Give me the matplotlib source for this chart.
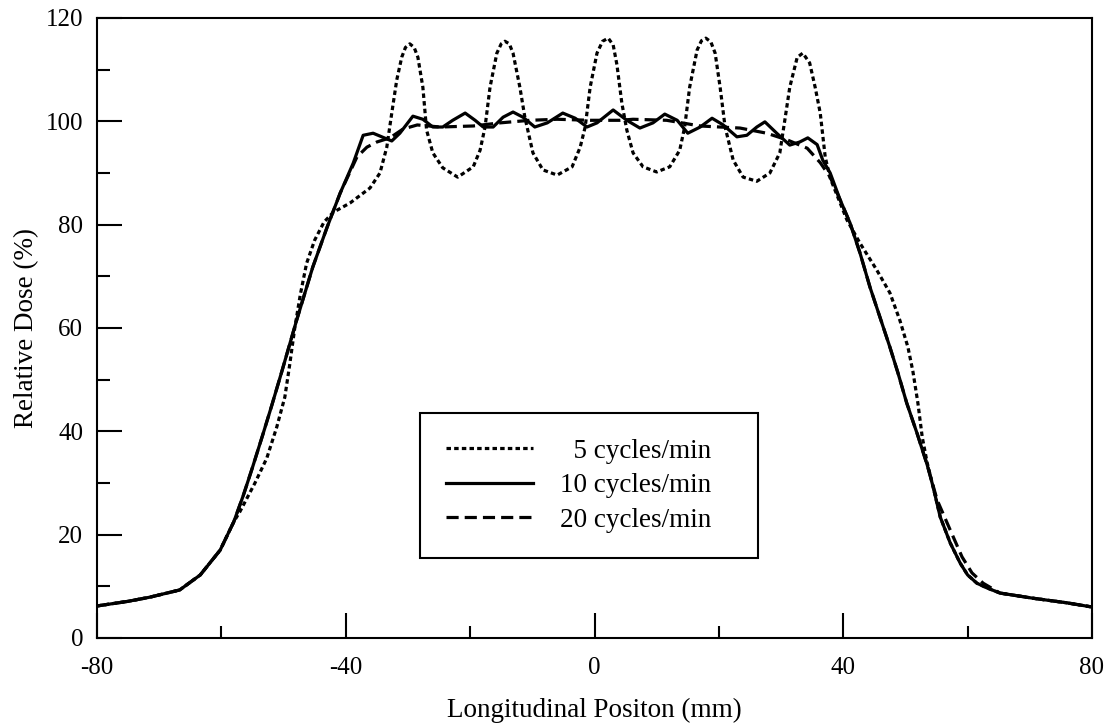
import matplotlib
matplotlib.use("Agg")
import matplotlib.pyplot as plt
from matplotlib.ticker import MultipleLocator

plt.rcParams['font.family'] = ['Liberation Serif', 'DejaVu Serif']
plt.rcParams['axes.unicode_minus'] = False

# ---- data ----
x_5 = [-80, -75, -71.5, -66.7, -63.4, -60.2, -58.0, -57.0, -54.6, -52.7, -51.1, -49.8,
       -49.0, -48.2, -47.3, -46.3, -45.0, -43.5, -42.0, -39.3, -36.1, -34.5, -33.4, -32.6,
       -31.8, -31.0, -30.4, -29.7, -29.0, -28.4, -27.6, -27.0, -26.0, -24.4, -22.0, -19.5,
       -18.4, -17.6, -16.8, -15.7, -15.0, -14.4, -13.7, -13.1, -12.0, -11.2, -9.9, -8.3,
       -6.0, -3.6, -2.3, -1.5, -0.7, 0.4, 1.3, 2.2, 3.0, 3.6, 4.4, 5.2,
       6.2, 7.8, 10.0, 12.1, 13.7, 14.5, 15.3, 16.5, 17.2, 17.9, 18.7, 19.4,
       20.2, 21.0, 22.3, 23.9, 26.1, 28.2, 29.8, 30.6, 31.4, 32.6, 33.5, 34.6,
       35.5, 36.3, 37.1, 37.9, 40.6, 42.7, 45.4, 47.5, 49.1, 50.4, 51.2, 52.0,
       52.7, 53.5, 54.4, 55.6, 57.2, 58.8, 60.0, 61.5, 63.1, 65.2, 70.5, 76.0,
       80]
y_5 = [6.2, 7.1, 7.9, 9.3, 12.2, 17.0, 22.5, 24.5, 30.0, 34.8, 40.8, 46.6,
       53.0, 60.0, 66.5, 72.5, 77.0, 80.5, 82.4, 84.2, 87.1, 90.0, 95.0, 101.6,
       108.0, 112.4, 114.3, 115.0, 114.3, 112.4, 106.6, 98.3, 93.9, 91.0, 89.2, 91.2,
       94.4, 98.9, 106.6, 113.2, 115.0, 115.5, 115.0, 113.2, 106.6, 100.8, 93.9, 90.6,
       89.6, 91.2, 95.0, 98.9, 106.6, 113.2, 115.5, 116.1, 114.8, 111.0, 103.5, 98.3,
       93.9, 91.2, 90.2, 91.2, 94.4, 98.9, 106.6, 113.8, 115.6, 116.1, 115.4, 113.2,
       106.6, 98.9, 92.5, 89.2, 88.4, 90.0, 93.9, 100.2, 106.6, 112.4, 113.2, 111.3,
       106.5, 101.6, 93.1, 89.0, 80.9, 76.4, 71.2, 66.8, 61.5, 56.3, 51.6, 45.5,
       38.9, 33.9, 29.5, 23.4, 18.4, 14.5, 12.2, 10.6, 9.7, 8.7, 7.7, 6.8,
       6.0]

x_10 = [-80, -75, -71.5, -66.7, -63.4, -60.2, -58.0, -56.5, -55.0, -53.3, -51.9, -50.3,
        -47.9, -45.3, -43.0, -40.9, -38.8, -37.2, -35.6, -34.2, -32.6, -31.3, -29.2, -27.6,
        -26.0, -24.4, -22.8, -20.8, -19.2, -17.9, -16.3, -14.7, -13.1, -11.5, -9.6, -7.6,
        -5.1, -3.1, -1.2, 0.4, 3.0, 5.2, 7.3, 9.4, 11.3, 13.3, 15.0, 17.0,
        18.9, 20.7, 22.9, 24.5, 26.1, 27.4, 29.3, 31.4, 33.0, 34.3, 35.8, 36.7,
        37.9, 39.5, 41.1, 42.7, 44.3, 45.9, 47.5, 48.8, 50.2, 51.9, 53.5, 54.4,
        55.6, 57.2, 58.8, 60.0, 61.5, 63.1, 65.2, 70.5, 76.0, 80]
y_10 = [6.2, 7.1, 7.9, 9.3, 12.2, 17.0, 22.5, 27.5, 33.0, 39.5, 45.0, 51.5,
        61.5, 71.8, 79.5, 86.1, 91.9, 97.3, 97.7, 97.0, 96.2, 97.7, 101.0, 100.4,
        98.9, 98.9, 100.2, 101.6, 100.2, 98.9, 98.9, 100.8, 101.8, 100.8, 98.9, 99.7,
        101.6, 100.6, 98.9, 99.7, 102.2, 100.2, 98.7, 99.7, 101.4, 100.2, 97.7, 98.9,
        100.6, 99.3, 97.0, 97.3, 98.9, 99.9, 97.7, 95.4, 96.0, 96.8, 95.5, 92.5,
        90.0, 84.8, 80.3, 74.5, 67.9, 62.1, 56.3, 51.3, 45.5, 39.5, 33.5, 29.5,
        23.4, 18.4, 14.5, 12.2, 10.6, 9.7, 8.7, 7.7, 6.8, 6.0]

x_20 = [-80, -75, -71.5, -66.7, -63.4, -60.2, -58.0, -56.5, -55.0, -53.3, -51.9, -50.3,
        -47.9, -45.3, -43.0, -40.9, -38.2, -36.6, -35.0, -32.9, -30.8, -28.5, -24.8, -19.5,
        -15.2, -10.4, -6.0, -0.7, 4.1, 6.2, 11.6, 17.0, 23.4, 27.7, 31.0, 34.2,
        36.3, 37.9, 39.5, 41.1, 42.7, 44.3, 45.9, 47.5, 48.8, 50.2, 51.9, 53.5,
        55.1, 57.2, 59.1, 60.7, 62.5, 65.2, 70.5, 76.0, 80]
y_20 = [6.2, 7.1, 7.9, 9.3, 12.2, 17.0, 22.5, 27.5, 33.0, 39.5, 45.0, 51.5,
        61.5, 71.8, 79.5, 86.1, 93.1, 95.0, 96.0, 96.8, 98.5, 99.3, 98.9, 99.1,
        99.7, 100.2, 100.4, 100.2, 100.2, 100.4, 100.2, 99.1, 98.7, 97.7, 96.4, 94.8,
        92.0, 89.2, 84.8, 80.3, 74.5, 67.9, 62.1, 56.3, 51.3, 45.5, 39.5, 33.5,
        26.7, 20.9, 15.7, 12.6, 10.6, 8.7, 7.7, 6.8, 6.0]

labels = ["  5 cycles/min", "10 cycles/min", "20 cycles/min"]
x_ticks = [-80, -40, 0, 40, 80]
y_ticks = [0, 20, 40, 60, 80, 100, 120]

# ---- figure ----
fig = plt.figure(figsize=(11.11, 7.26), dpi=100)
ax = fig.add_axes([97/1111, 88/726, 995/1111, 620/726])

ax.plot(x_5, y_5, color='black', lw=2.3, linestyle=(0, (1.4, 1.0)), label=labels[0])
ax.plot(x_10, y_10, color='black', lw=2.3, linestyle='-', label=labels[1])
ax.plot(x_20, y_20, color='black', lw=2.3, linestyle=(0, (3.8, 1.9)), label=labels[2])

ax.set_xlim(-80, 80)
ax.set_ylim(0, 120)
ax.set_xticks(x_ticks)
ax.set_yticks(y_ticks)
ax.xaxis.set_minor_locator(MultipleLocator(20))
ax.yaxis.set_minor_locator(MultipleLocator(10))
ax.tick_params(which='both', direction='in', top=False, right=False,
               width=1.5, labelsize=18, colors='black')
ax.tick_params(which='major', length=18)
ax.tick_params(which='minor', length=9)
ax.tick_params(axis='x', which='major', pad=14)
ax.tick_params(axis='y', which='major', pad=10)
for s in ax.spines.values():
    s.set_linewidth(1.5)
    s.set_color('black')

ax.set_xlabel("Longitudinal Positon (mm)", fontsize=19.5, labelpad=13)
ax.set_ylabel("Relative Dose (%)", fontsize=19.5, labelpad=4.5)

leg = ax.legend(loc='upper left', bbox_to_anchor=(0.325, 0.137, 0.339, 0.226),
                mode='expand', borderaxespad=0, fontsize=19.5, handlelength=3.2,
                handletextpad=1.0, labelspacing=0.35, borderpad=0.95,
                fancybox=False, framealpha=1, edgecolor='black')
leg.get_frame().set_linewidth(1.5)

fig.savefig("out.png", dpi=100)
